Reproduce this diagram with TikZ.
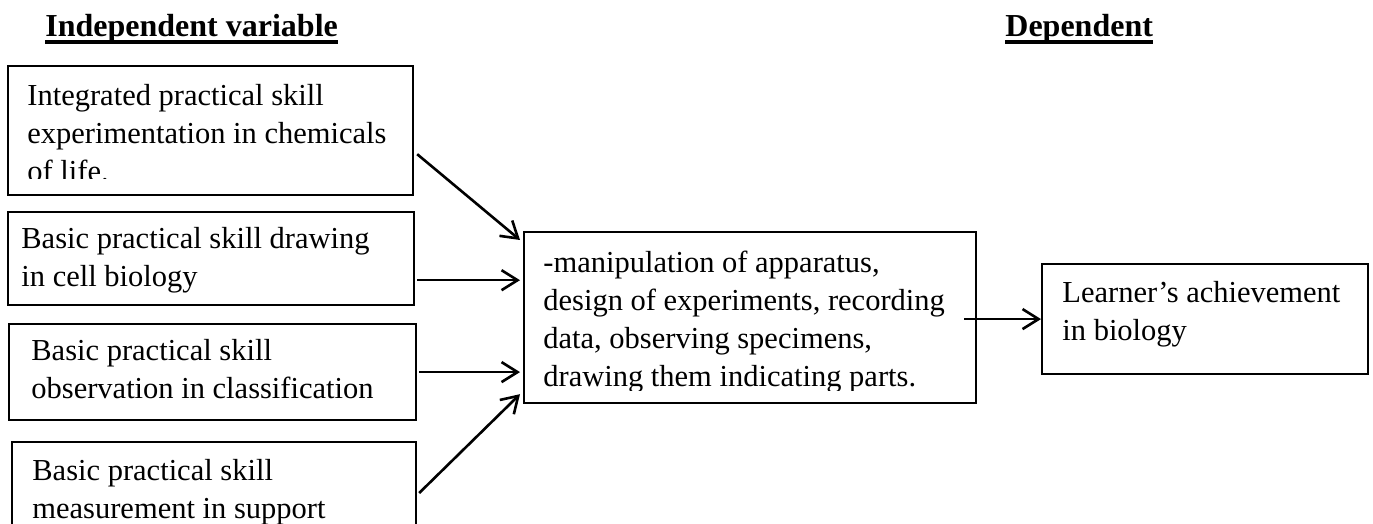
\documentclass[tikz,border=0pt]{standalone}
\usepackage{fontspec}
\setmainfont{Liberation Serif}
\usetikzlibrary{arrows.meta}

\newcommand{\bodyfont}{\fontsize{15.25}{19}\selectfont}
\newcommand{\headfont}{\fontsize{16}{19}\selectfont\bfseries}
% thick underline as in the heading
\newcommand{\headline}[1]{\setbox0\hbox{#1}\rlap{\rule[-3.3pt]{\wd0}{1.6pt}}\box0}

\tikzset{
  box/.style={draw, line width=1.1pt, anchor=north west, inner sep=0pt},
  txt/.style={anchor=north west, inner sep=0pt, align=left, font=\bodyfont},
  head/.style={anchor=base west, inner sep=0pt, font=\headfont},
  arrow/.style={line width=1.3pt, -{Straight Barb[length=8pt,width=10pt,line width=1.3pt]}},
}

\begin{document}
\begin{tikzpicture}[x=0.5pt, y=0.5pt]
  \useasboundingbox (0,0) rectangle (1373,524);

  % headings
  \node[head] (indep) at (45,487) {\headline{Independent variable}};
  \node[head] (dep) at (1005,487) {\headline{Dependent}};

  % independent variables (left column)
  \node[box, minimum width=202.5pt, minimum height=64.5pt] (integ) at (7,459) {};
  \node[box, minimum width=203pt, minimum height=46.5pt] (drawing) at (7,313) {};
  \node[box, minimum width=203.5pt, minimum height=48pt] (observ) at (8,201) {};
  \node[box, minimum width=202pt, minimum height=65pt] (measure) at (11,83) {};

  % skills box and dependent variable
  \node[box, minimum width=226pt, minimum height=85.5pt] (skills) at (523,293) {};
  \node[box, minimum width=163pt, minimum height=55pt] (achieve) at (1041,261) {};

  % texts, cut at the inner margin of each box
  \begin{scope}
    \clip (integ.north west) rectangle ([shift={(0,18)}]integ.south east);
    \node[txt] (integ-t) at ([shift={(20,-13.4)}]integ.north west)
      {\strut Integrated practical skill\\experimentation in chemicals\\of life.};
  \end{scope}
  \begin{scope}
    \clip (drawing.north west) rectangle ([shift={(0,14)}]drawing.south east);
    \node[txt] (drawing-t) at ([shift={(14,-10.4)}]drawing.north west)
      {\strut Basic practical skill drawing\\in cell biology};
  \end{scope}
  \begin{scope}
    \clip (observ.north west) rectangle ([shift={(0,11)}]observ.south east);
    \node[txt] (observ-t) at ([shift={(23,-10.4)}]observ.north west)
      {\strut Basic practical skill\\observation in classification};
  \end{scope}
  \begin{scope}
    \clip (measure.north west) rectangle ([shift={(0,11)}]measure.south east);
    \node[txt] (measure-t) at ([shift={(21,-12.4)}]measure.north west)
      {\strut Basic practical skill\\measurement in support};
  \end{scope}
  \begin{scope}
    \clip (skills.north west) rectangle ([shift={(0,14)}]skills.south east);
    \node[txt] (skills-t) at ([shift={(20,-14.4)}]skills.north west)
      {\strut -manipulation of apparatus,\\design of experiments, recording\\data, observing specimens,\\drawing them indicating parts.};
  \end{scope}
  \node[txt] (achieve-t) at ([shift={(21,-12.4)}]achieve.north west)
    {\strut Learner’s achievement\\in biology};

  % connectors
  \coordinate (drawing-out) at ([shift={(2,26)}]drawing.south east);
  \draw[arrow] ([shift={(3,42)}]integ.south east) -- ([shift={(-3,-9)}]skills.north west);
  \draw[arrow] (drawing-out) -- ([xshift=-1.5pt]skills.west |- drawing-out);
  \draw[arrow] ([xshift=1pt]observ.east) -- ([xshift=-1.5pt]skills.west |- observ.east);
  \draw[arrow] ([shift={(2,-52)}]measure.north east) -- ([shift={(-3,10)}]skills.south west);
  \draw[arrow] ([xshift=-6.5pt]skills.east |- achieve.west) -- (achieve.west);
\end{tikzpicture}
\end{document}
